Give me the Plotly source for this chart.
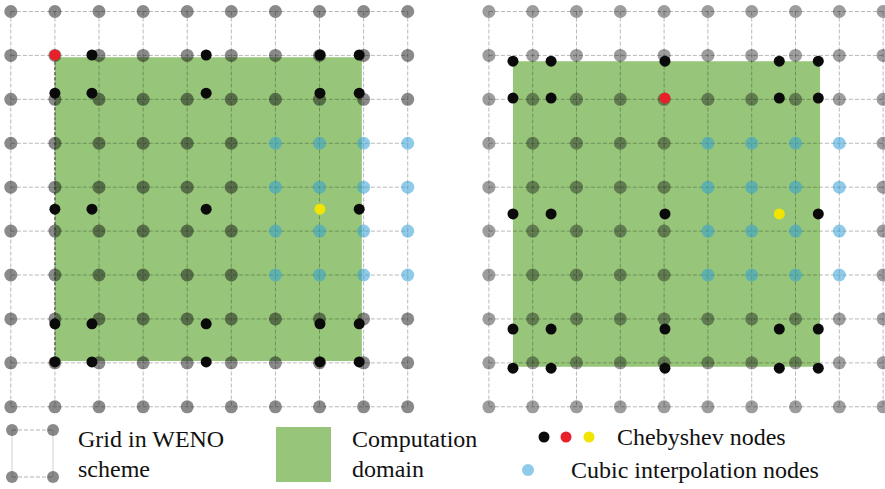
import plotly.graph_objects as go

# ---------------- data (grid units: column / row index) ----------------
grid_cols = list(range(10))
grid_rows = list(range(10))

# left panel
L_cheb_x = [1.00, 1.84, 4.43, 7.01, 7.90]
L_cheb_y = [0.99, 1.86, 4.50, 7.11, 7.98]
L_domain_x = [1.00, 7.96]
L_domain_y = [1.04, 7.96]
L_cubic_cols = [6, 7, 8, 9]
L_cubic_rows = [3, 4, 5, 6]
L_red_idx = (0, 0)
L_yellow_idx = (3, 2)

# right panel
R_cheb_x = [0.55, 1.42, 4.02, 6.63, 7.52]
R_cheb_y = [1.13, 1.97, 4.61, 7.23, 8.12]
R_domain_x = [0.55, 7.56]
R_domain_y = [1.13, 8.09]
R_cubic_cols = [5, 6, 7, 8]
R_cubic_rows = [3, 4, 5, 6]
R_red_idx = (2, 1)
R_yellow_idx = (3, 2)

# legend texts
legend_grid = ["Grid in WENO", "scheme"]
legend_domain = ["Computation", "domain"]
legend_cheb = "Chebyshev nodes"
legend_cubic = "Cubic interpolation nodes"

# ---------------- styles ----------------
W, H = 885, 489
GREEN = "#97C67A"
BLUE = "rgba(51,160,213,0.55)"
GRID_LINE = "rgba(0,0,0,0.28)"
FONT = "Liberation Serif"

fig = go.Figure()


def panel(xa, ya, cheb_x, cheb_y, dom_x, dom_y, cub_c, cub_r, red_i, yel_i, gray_col, edge):
    # computation domain
    fig.add_shape(type="rect", xref=xa, yref=ya, x0=dom_x[0], x1=dom_x[1],
                  y0=dom_y[0], y1=dom_y[1], fillcolor=GREEN, line_width=0, layer="below")
    # grid lines
    lx, ly = [], []
    for r in grid_rows:
        lx += [grid_cols[0], grid_cols[-1], None]
        ly += [r, r, None]
    for c in grid_cols:
        lx += [c, c, None]
        ly += [grid_rows[0], grid_rows[-1], None]
    fig.add_trace(go.Scatter(x=lx, y=ly, mode="lines", xaxis=xa, yaxis=ya,
                             line=dict(color=GRID_LINE, width=1, dash="4px,2px"),
                             hoverinfo="skip", showlegend=False))
    if edge:
        fig.add_trace(go.Scatter(x=[dom_x[0], dom_x[0]], y=dom_y, mode="lines",
                                 xaxis=xa, yaxis=ya,
                                 line=dict(color="rgba(20,20,20,0.75)", width=1, dash="3px,2px"),
                                 hoverinfo="skip", showlegend=False))
    # gray grid nodes (except cubic block)
    cub = {(c, r) for c in cub_c for r in cub_r}
    gx = [c for r in grid_rows for c in grid_cols if (c, r) not in cub]
    gy = [r for r in grid_rows for c in grid_cols if (c, r) not in cub]
    fig.add_trace(go.Scatter(x=gx, y=gy, mode="markers", xaxis=xa, yaxis=ya,
                             marker=dict(size=13, color=gray_col, line_width=0),
                             hoverinfo="skip", showlegend=False))
    # cubic interpolation nodes
    bx = [c for r in cub_r for c in cub_c]
    by = [r for r in cub_r for c in cub_c]
    fig.add_trace(go.Scatter(x=bx, y=by, mode="markers", xaxis=xa, yaxis=ya,
                             marker=dict(size=13, color=BLUE, line_width=0),
                             hoverinfo="skip", showlegend=False))
    # chebyshev nodes
    kx, ky, kc = [], [], []
    for j, yv in enumerate(cheb_y):
        for i, xv in enumerate(cheb_x):
            kx.append(xv)
            ky.append(yv)
            if (i, j) == red_i:
                kc.append("#E8202A")
            elif (i, j) == yel_i:
                kc.append("#F0E400")
            else:
                kc.append("#0A0A0A")
    fig.add_trace(go.Scatter(x=kx, y=ky, mode="markers", xaxis=xa, yaxis=ya,
                             marker=dict(size=11, color=kc, line_width=0),
                             hoverinfo="skip", showlegend=False))


panel("x", "y", L_cheb_x, L_cheb_y, L_domain_x, L_domain_y, L_cubic_cols, L_cubic_rows,
      L_red_idx, L_yellow_idx, "rgba(21,21,21,0.50)", True)
panel("x2", "y2", R_cheb_x, R_cheb_y, R_domain_x, R_domain_y, R_cubic_cols, R_cubic_rows,
      R_red_idx, R_yellow_idx, "rgba(21,21,21,0.42)", False)

# ---------------- legend (pixel overlay axis) ----------------
leg_gray = dict(x=[12, 53, 12, 53], y=[430, 430, 477, 477])
fig.add_trace(go.Scatter(x=[12, 53, None, 12, 53], y=[430, 430, None, 477, 477], mode="lines",
                         xaxis="x3", yaxis="y3",
                         line=dict(color="rgba(0,0,0,0.3)", width=1, dash="4px,2px"),
                         hoverinfo="skip", showlegend=False))
fig.add_trace(go.Scatter(x=[12, 12, None, 53, 53], y=[430, 477, None, 430, 477], mode="lines",
                         xaxis="x3", yaxis="y3",
                         line=dict(color="rgba(0,0,0,0.18)", width=1),
                         hoverinfo="skip", showlegend=False))
fig.add_trace(go.Scatter(x=leg_gray["x"], y=leg_gray["y"], mode="markers", xaxis="x3", yaxis="y3",
                         marker=dict(size=12, color="rgba(21,21,21,0.5)", line_width=0),
                         hoverinfo="skip", showlegend=False))
fig.add_shape(type="rect", xref="x3", yref="y3", x0=276, x1=331, y0=427, y1=482,
              fillcolor=GREEN, line_width=0)
fig.add_trace(go.Scatter(x=[544, 566, 589], y=[437, 437, 437], mode="markers",
                         xaxis="x3", yaxis="y3",
                         marker=dict(size=11, color=["#0A0A0A", "#E8202A", "#F0E400"], line_width=0),
                         hoverinfo="skip", showlegend=False))
fig.add_trace(go.Scatter(x=[528], y=[470], mode="markers", xaxis="x3", yaxis="y3",
                         marker=dict(size=12, color=BLUE, line_width=0),
                         hoverinfo="skip", showlegend=False))

texts = [
    (76, 439, legend_grid[0]), (76, 469, legend_grid[1]),
    (350, 439, legend_domain[0]), (350, 469, legend_domain[1]),
    (615, 437, legend_cheb), (569, 470, legend_cubic),
]
for tx, ty, t in texts:
    fig.add_annotation(x=tx, y=ty, xref="x3", yref="y3", text=t, showarrow=False,
                       xanchor="left", yanchor="middle",
                       font=dict(family=FONT, size=24, color="#111111"))

# ---------------- axes ----------------
hid = dict(visible=False, showgrid=False, zeroline=False, fixedrange=True)
fig.update_layout(
    width=W, height=H,
    margin=dict(l=0, r=0, t=0, b=0),
    paper_bgcolor="white", plot_bgcolor="rgba(0,0,0,0)",
    xaxis=dict(domain=[0, 440 / W], range=[-0.245, 9.732], anchor="y", **hid),
    yaxis=dict(domain=[0, 1], range=[10.872, -0.262], anchor="x", **hid),
    xaxis2=dict(domain=[440 / W, 1], range=[-1.116, 9.043], anchor="y2", **hid),
    yaxis2=dict(domain=[0, 1], range=[10.872, -0.262], anchor="x2", **hid),
    xaxis3=dict(domain=[0, 1], range=[0, W], anchor="y3", **hid),
    yaxis3=dict(domain=[0, 1], range=[H, 0], anchor="x3", **hid),
    showlegend=False,
)

fig.write_html(
    "out.html",
    config={"displayModeBar": False},
    post_script="document.body.style.margin='0';document.body.style.overflow='hidden';"
                "document.documentElement.style.overflow='hidden';",
)
